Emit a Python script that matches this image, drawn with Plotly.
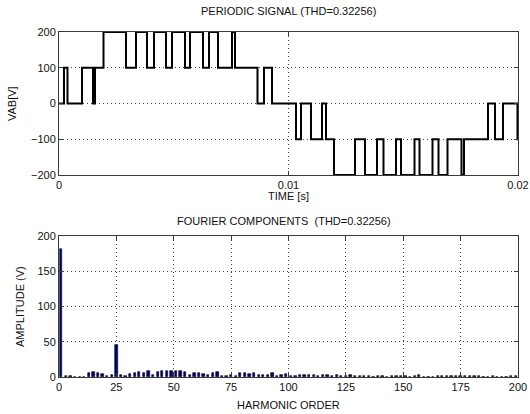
import plotly.graph_objects as go

# ---- data ----
# periodic PWM line voltage: switching instants (ms) and level held from that instant
switch_ms = [0.0, 0.218, 0.370, 1.002, 1.481, 1.569, 1.939, 2.919, 3.355, 3.834, 4.139,
             4.662, 4.924, 5.490, 5.708, 6.275, 6.536, 6.928, 7.538, 7.669, 8.649,
             8.932, 9.281,
             10.327, 10.545, 10.980, 11.460, 11.634, 11.983, 12.898, 13.333, 13.856,
             14.139, 14.684, 14.902, 15.490, 15.708, 16.275, 16.536, 16.928, 17.538,
             17.647, 18.693, 18.998, 19.346, 19.978, 20.0]
levels = [0, 100, 0, 100, 0, 100, 200, 100, 200, 100, 200,
          100, 200, 100, 200, 100, 200, 100, 200, 100, 0,
          100, 0,
          -100, 0, -100, 0, -100, -200, -100, -200, -100,
          -200, -100, -200, -100, -200, -100, -200, -100, -200,
          -100, 0, -100, 0, -100, -100]

harmonic_order = list(range(1, 200, 2))
amplitude = [182, 2, 1.5, 0.5, 0.5, 0.5, 5, 7, 5, 4,
             1, 3, 46, 3, 1, 4, 5, 7, 5, 9,
             3, 7, 8, 8, 8, 8, 8, 7, 3, 6,
             5, 4, 3, 5, 7, 2, 1, 3, 2, 5,
             6, 4, 6, 3, 3, 3, 5, 2, 3, 4,
             1, 2, 3, 3, 3, 3, 2, 3, 3, 2,
             3, 2, 1, 3, 2, 2, 1, 2, 0.5, 2,
             1, 0.5, 2, 2, 1, 2, 0.5, 1.5, 2.5, 0.5,
             0.5, 0.5, 2, 2, 2, 2, 1.5, 2, 1.5, 1.5,
             1, 1.5, 0.5, 0.5, 1, 0.5, 0.5, 0.5, 1.5, 2]

top_xticks = [0, 0.01, 0.02]
top_xlabels = ["0", "0.01", "0.02"]
top_yticks = [-200, -100, 0, 100, 200]
bot_xticks = [0, 25, 50, 75, 100, 125, 150, 175, 200]
bot_yticks = [0, 50, 100, 150, 200]

time_s = [t / 1000.0 for t in switch_ms]

FONT = "Liberation Sans, Arial, sans-serif"
AX = "#3a3a3a"

fig = go.Figure()
fig.add_trace(go.Scatter(x=time_s, y=levels, mode="lines", line_shape="hv",
                         line=dict(color="black", width=2), xaxis="x", yaxis="y",
                         showlegend=False, hoverinfo="skip", cliponaxis=False))
fig.add_trace(go.Bar(x=harmonic_order, y=amplitude, width=1.0,
                     marker=dict(color="#00007a", line=dict(color="black", width=0.6)),
                     xaxis="x2", yaxis="y2", showlegend=False))

common = dict(showline=True, linecolor=AX, linewidth=1, mirror="ticks",
              ticks="inside", ticklen=4, tickcolor=AX, automargin=False,
              showgrid=True, gridcolor="#444444", griddash="1px,3px", gridwidth=1,
              zeroline=False, tickfont=dict(family=FONT, size=11, color="#111"))

fig.update_layout(
    width=530, height=414,
    margin=dict(l=59, r=12, t=32, b=37, autoexpand=False),
    paper_bgcolor="white", plot_bgcolor="white",
    bargap=0,
    xaxis=dict(domain=[0, 1], anchor="y", range=[0, 0.02], tickvals=top_xticks,
               ticktext=top_xlabels, **common),
    yaxis=dict(domain=[0.5855, 1], anchor="x", range=[-200, 200], tickvals=top_yticks, **common),
    xaxis2=dict(domain=[0, 1], anchor="y2", range=[0, 200], tickvals=bot_xticks, **common),
    yaxis2=dict(domain=[0, 0.4087], anchor="x2", range=[0, 200], tickvals=bot_yticks, **common),
)

ann_font = dict(family=FONT, size=11, color="#111")
anns = [
    dict(text="PERIODIC SIGNAL (THD=0.32256)", x=0.5, y=1.0609),
    dict(text="TIME [s]", x=0.5, y=0.5246),
    dict(text="FOURIER COMPONENTS  (THD=0.32256)", x=0.49, y=0.4522),
    dict(text="HARMONIC ORDER", x=0.5, y=-0.0812),
    dict(text="VAB[V]", x=-0.1024, y=0.794, textangle=-90),
    dict(text="AMPLITUDE (V)", x=-0.085, y=0.2058, textangle=-90),
]
for a in anns:
    fig.add_annotation(xref="paper", yref="paper", showarrow=False,
                       xanchor="center", yanchor="middle", font=ann_font, **a)

# remove the page's default 8px body margin so the figure fills the window
fig.write_html("out.html", config={"displayModeBar": False},
               post_script="document.body.style.margin='0px';document.body.style.overflow='hidden';")
